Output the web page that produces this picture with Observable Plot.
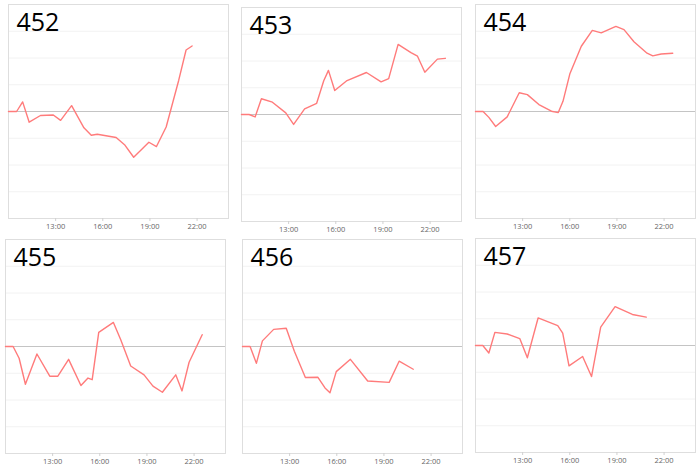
<!DOCTYPE html>
<html><head><meta charset="utf-8">
<script src="https://cdn.jsdelivr.net/npm/d3@7"></script>
<script src="https://cdn.jsdelivr.net/npm/@observablehq/plot@0.6"></script>
<style>
body{margin:0;background:#fff}
#wrap{position:relative;width:700px;height:468px;overflow:hidden;background:#fff}
#wrap svg{position:absolute}
</style>
</head><body><div id="wrap"></div>
<script>
const names = ["452","453","454","455","456","457"];
const tickHours = [13,16,19,22];

const t452 = ["10:00","10:31","10:54","11:19","12:02","12:51","13:19","14:01","14:48","15:16","15:39","16:51","17:23","17:58","18:56","19:25","20:02","20:50","21:18","21:41"];
const v452 = [0,0,0.36,-0.4,-0.15,-0.13,-0.33,0.22,-0.61,-0.89,-0.85,-0.97,-1.24,-1.71,-1.15,-1.31,-0.58,1.17,2.3,2.45];

const t453 = ["10:00","10:29","10:52","11:16","11:58","12:49","13:19","14:01","14:47","15:14","15:32","15:56","16:43","17:57","18:53","19:22","19:58","20:47","21:12","21:40","22:28","22:58"];
const v453 = [0,0,-0.09,0.59,0.46,0.06,-0.37,0.21,0.42,1.26,1.65,0.9,1.27,1.57,1.22,1.34,2.62,2.31,2.18,1.58,2.07,2.1];

const t454 = ["10:00","10:29","10:51","11:17","12:01","12:47","13:18","14:02","14:50","15:16","15:34","16:00","16:44","17:26","18:00","18:56","19:27","20:05","20:55","21:17","21:49","22:33"];
const v454 = [0,0,-0.22,-0.56,-0.2,0.7,0.63,0.26,0.01,-0.04,0.38,1.4,2.44,3.03,2.94,3.18,3.06,2.61,2.18,2.08,2.15,2.18];

const t455 = ["10:00","10:29","10:52","11:16","12:00","12:49","13:20","14:01","14:48","15:15","15:31","15:56","16:52","17:20","17:58","18:49","19:23","19:59","20:50","21:14","21:41","22:31"];
const v455 = [0,0,-0.44,-1.41,-0.28,-1.11,-1.11,-0.48,-1.46,-1.18,-1.24,0.53,0.9,0.25,-0.73,-1.06,-1.48,-1.71,-1.06,-1.66,-0.59,0.44];

const t456 = ["10:00","10:29","10:53","11:16","11:59","12:47","13:18","14:00","14:48","15:15","15:34","15:58","16:52","17:58","19:20","19:58","20:52"];
const v456 = [0,0,-0.63,0.21,0.64,0.68,-0.18,-1.16,-1.15,-1.55,-1.73,-0.94,-0.48,-1.29,-1.34,-0.55,-0.85];

const t457 = ["10:00","10:28","10:51","11:14","12:01","12:49","13:18","13:59","15:14","15:33","15:57","16:49","17:23","17:58","18:53","19:59","20:52"];
const v457 = [0,0,-0.28,0.49,0.43,0.26,-0.46,1.03,0.74,0.46,-0.76,-0.41,-1.16,0.69,1.45,1.16,1.06];

const gridValues = [-3,-2,-1,1,2,3];

const series = [[t452,v452],[t453,v453],[t454,v454],[t455,v455],[t456,v456],[t457,v457]];
const positions = [[8,4],[241,7],[475,4],[5,239],[242,239],[475,238]];

const toHour = s => { const [h,m] = s.split(":").map(Number); return h + m/60; };

const wrap = document.getElementById("wrap");
const W = 220, H = 214;

names.forEach((name, i) => {
  const [times, values] = series[i];
  const data = times.map((t, j) => ({h: toHour(t), v: values[j]}));
  const plot = Plot.plot({
    width: W + 2, height: H + 1 + 16,
    marginLeft: 1, marginRight: 1, marginTop: 1, marginBottom: 16,
    style: {fontFamily: "'Open Sans', sans-serif", fontSize: "7.5px", background: "transparent", color: "#666"},
    x: {domain: [10, 24], axis: null},
    y: {domain: [-4, 4], axis: null},
    marks: [
      Plot.ruleY(gridValues, {stroke: "#f2f2f2", strokeWidth: 1}),
      Plot.frame({stroke: "#dedede"}),
      Plot.axisX({ticks: tickHours, tickFormat: d => `${d}:00`, tickSize: 3, tickPadding: 2, label: null, stroke: "#d0d0d0", fill: "#666"}),
      Plot.ruleY([0], {stroke: "#c4c4c4", strokeWidth: 1.2}),
      Plot.lineY(data, {x: "h", y: "v", stroke: "#ff7b7b", strokeWidth: 1.4}),
      Plot.text([name], {frameAnchor: "top-left", dx: 8, dy: 9, lineAnchor: "top", fontSize: 25, fill: "#000", text: d => d})
    ]
  });
  plot.style.left = (positions[i][0] - 1) + "px";
  plot.style.top = (positions[i][1] - 1) + "px";
  wrap.appendChild(plot);
});
</script>
</body></html>
